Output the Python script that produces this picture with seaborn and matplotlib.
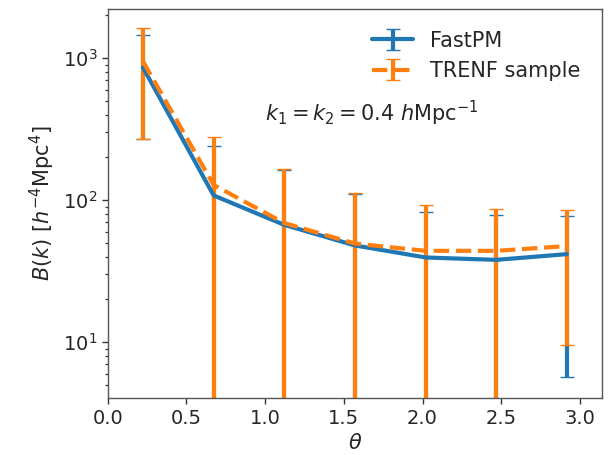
import numpy as np
import matplotlib
matplotlib.use("Agg")
import matplotlib.pyplot as plt
from matplotlib.ticker import LogLocator, NullFormatter
import seaborn as sns

theta = [0.224, 0.673, 1.122, 1.571, 2.020, 2.468, 2.917]
fastpm = [860, 108, 67, 48, 39.5, 38, 41.7]
fastpm_err = [590, 132, 96, 63, 43, 41, 36]
trenf = [950, 128, 69, 49.5, 44, 44, 47.5]
trenf_err = [680, 152, 96, 62, 49, 42, 38]
labels = ["FastPM", "TRENF sample"]
annot = r"$k_1 = k_2 = 0.4\ h\mathrm{Mpc}^{-1}$"

sns.set_style("ticks")
plt.rcParams['font.family'] = ['DejaVu Sans']
blue, orange = sns.color_palette("tab10")[0], sns.color_palette("tab10")[1]

fig = plt.figure(figsize=(6.12, 4.55), dpi=100)
ax = fig.add_axes([0.176, 0.125, 0.808, 0.855])

ax.errorbar(theta, fastpm, yerr=fastpm_err, color=blue, lw=3, elinewidth=3,
            capsize=5, capthick=1.0, label=labels[0])
ax.errorbar(theta, trenf, yerr=trenf_err, color=orange, lw=3, elinewidth=3,
            capsize=5, capthick=1.0, ls='--', label=labels[1])

ax.set_yscale('log')
ax.set_xlim(0, np.pi)
ax.set_ylim(4.04, 2215)
ax.yaxis.set_minor_locator(LogLocator(base=10, subs=np.arange(2, 10) * 1.0, numticks=30))
ax.yaxis.set_minor_formatter(NullFormatter())
for s in ax.spines.values():
    s.set_visible(True)
    s.set_color('#555555')
    s.set_linewidth(1.0)
ax.tick_params(labelsize=14, which='major', length=4, width=1.0, color='#333333')
ax.tick_params(axis='y', which='minor', length=2.5, width=0.9, color='#333333', left=True)
ax.set_xlabel(r"$\theta$", fontsize=15)
ax.set_ylabel(r"$B(k)\ [h^{-4}\mathrm{Mpc}^4]$", fontsize=15)
ax.legend(loc='upper right', frameon=False, fontsize=15, handlelength=2.0,
          labelspacing=0.5, borderaxespad=0.64)
ax.text(0.318, 0.733, annot, transform=ax.transAxes, fontsize=15, va='center', ha='left')

fig.savefig("out.png", dpi=100)
